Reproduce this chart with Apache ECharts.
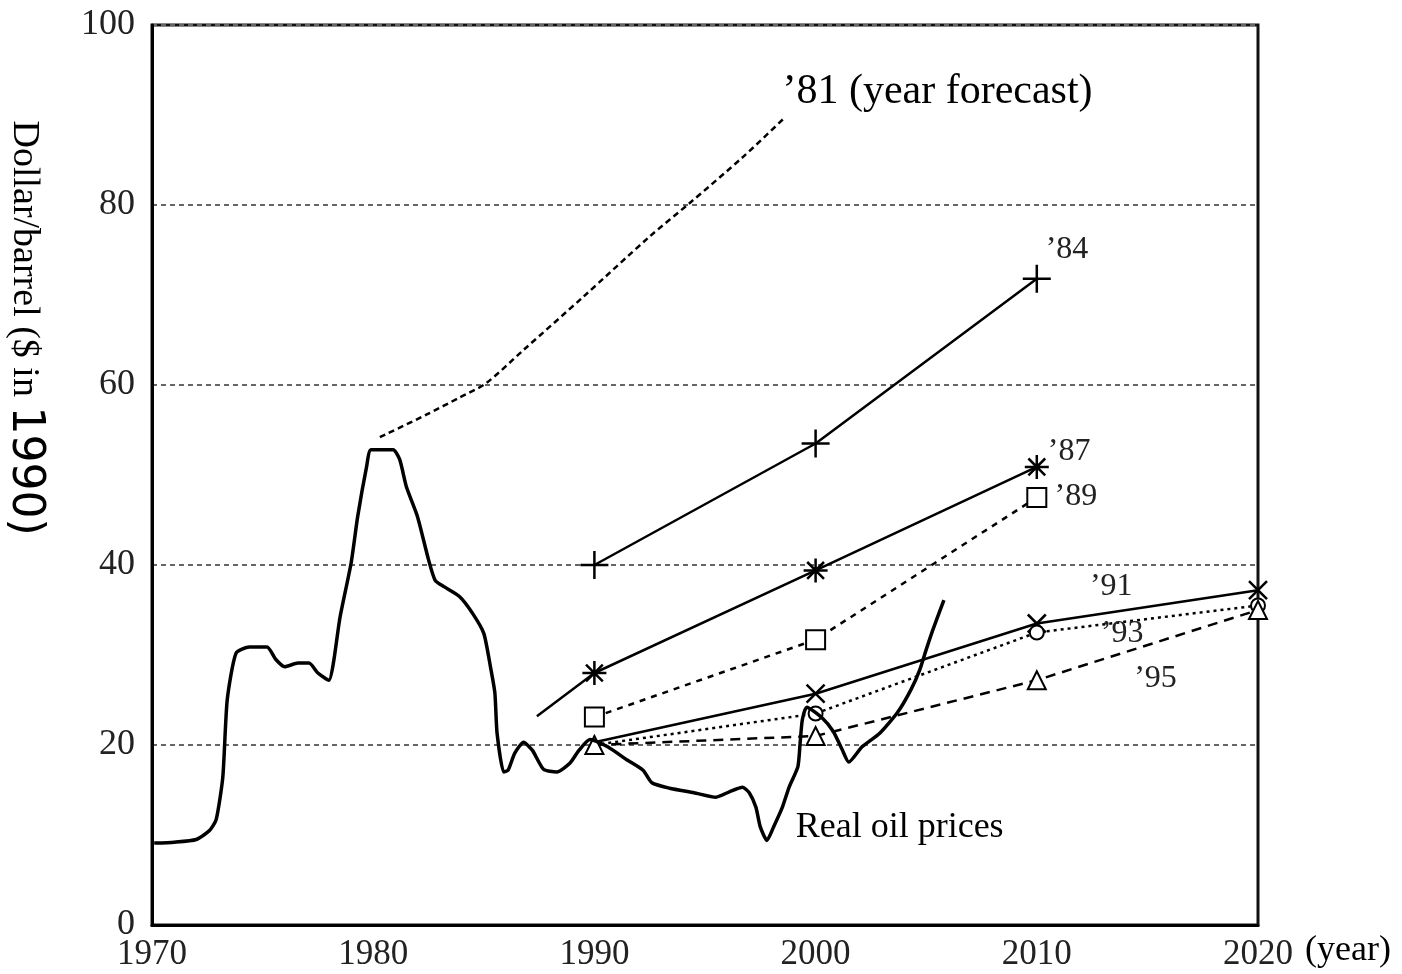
<!DOCTYPE html>
<html>
<head>
<meta charset="utf-8">
<script src="https://cdn.jsdelivr.net/npm/echarts@6/dist/echarts.min.js"></script>
<style>
html,body{margin:0;padding:0;background:#fff;}
#chart{width:1402px;height:974px;}
</style>
</head>
<body>
<div id="chart"></div>
<script>
// ---------- data ----------
const xTicks = [1970, 1980, 1990, 2000, 2010, 2020];
const yTicks = [0, 20, 40, 60, 80, 100];

const realOilPrices = [
  [1970.1, 9.1], [1971.0, 9.2], [1972.0, 9.5], [1972.6, 10.5], [1972.9, 11.7],
  [1973.2, 16.4], [1973.4, 25.0], [1973.8, 30.2], [1974.4, 30.9], [1975.2, 30.9],
  [1975.6, 29.5], [1976.0, 28.7], [1976.6, 29.1], [1977.1, 29.1], [1977.5, 28.0],
  [1978.0, 27.2], [1978.2, 29.1], [1978.5, 34.2], [1979.0, 40.2], [1979.3, 45.4],
  [1979.7, 50.9], [1979.9, 52.8], [1980.9, 52.8], [1981.2, 51.7], [1981.5, 48.7],
  [1982.0, 45.4], [1982.5, 40.6], [1982.8, 38.3], [1983.2, 37.6], [1983.9, 36.5],
  [1984.5, 34.6], [1985.0, 32.4], [1985.3, 28.7], [1985.5, 25.8], [1985.6, 21.3],
  [1985.9, 17.0], [1986.1, 17.2], [1986.4, 19.1], [1986.8, 20.3], [1987.2, 19.4],
  [1987.7, 17.3], [1988.3, 17.0], [1988.9, 18.0], [1989.3, 19.4], [1989.8, 20.6],
  [1990.6, 19.8], [1991.5, 18.3], [1992.2, 17.2], [1992.6, 15.8], [1993.4, 15.2],
  [1994.5, 14.7], [1995.5, 14.2], [1996.1, 14.8], [1996.7, 15.3], [1997.0, 14.7],
  [1997.3, 13.1], [1997.5, 10.9], [1997.8, 9.4], [1998.1, 10.9], [1998.5, 13.1],
  [1998.8, 15.3], [1999.2, 17.6], [1999.3, 20.2], [1999.4, 22.8], [1999.6, 24.2],
  [2000.3, 23.0], [2000.8, 21.5], [2001.2, 19.5], [2001.5, 18.1], [2002.1, 19.8],
  [2002.9, 21.3], [2003.7, 23.6], [2004.3, 26.1], [2004.7, 28.3], [2005.0, 30.6],
  [2005.3, 32.8], [2005.8, 36.1]
];

const forecast81 = [
  [1980.3, 54.2], [1982.4, 56.7], [1983.9, 58.6], [1985.1, 60.2], [1986.8, 63.9],
  [1989.5, 69.8], [1992.5, 76.5], [1994.3, 80.2], [1996.7, 85.3], [1998.6, 89.7]
];
const forecast84 = [[1990, 40.0], [2000, 53.5], [2010, 71.8]];
const forecast87 = [[1987.4, 23.2], [1990, 28.0], [2000, 39.4], [2010, 50.9]];
const forecast89 = [[1990, 23.1], [2000, 31.7], [2010, 47.5]];
const forecast91 = [[1990, 20.3], [2000, 25.7], [2010, 33.5], [2020, 37.2]];
const forecast93 = [[1990, 20.0], [2000, 23.5], [2010, 32.5], [2020, 35.5]];
const forecast95 = [[1990, 20.0], [2000, 21.0], [2010, 27.2], [2020, 35.0]];

const annotationTexts = ["\u201981 (year forecast)", "\u201984", "\u201987", "\u201989", "\u201991", "\u201993", "\u201995", "Real oil prices"];
const annotationAnchors = [[1998.5, 92.6], [2010.4, 75.1], [2010.5, 52.6], [2010.8, 47.6], [2012.4, 37.6], [2012.9, 32.4], [2014.4, 27.4], [1999.1, 10.8]];

const yAxisTitle = "Dollar/barrel ($ in ";
const yAxisTitleYear = "1990)";
const xAxisTitle = "(year)";

// ---------- chart ----------
const chart = echarts.init(document.getElementById('chart'), null, {renderer: 'canvas'});

const SERIF = '"Liberation Serif", "Times New Roman", serif';
const PLUS = 'path://M10,0L10,20M0,10L20,10';
const ASTER = 'path://M10,0L10,20M0,10L20,10M3,3L17,17M3,17L17,3';
const CROSS = 'path://M0,0L20,20M0,20L20,0';

function pts(arr, symbolFirst) {
  return arr.map((p, i) => (i === 0 && symbolFirst === false) ? {value: p, symbol: 'none'} : {value: p});
}

function forecastSeries(name, data, opts) {
  return Object.assign({
    name: name,
    type: 'line',
    data: data,
    color: '#000',
    showSymbol: true,
    symbolKeepAspect: true,
    lineStyle: {color: '#000', width: 2.5, type: 'solid'},
    itemStyle: {color: '#000', borderColor: '#000', borderWidth: 2.5},
    z: 3,
    emphasis: {disabled: true}
  }, opts);
}

const option = {
  animation: false,
  backgroundColor: '#fff',
  grid: {
    left: 152, right: 144, top: 25, bottom: 49,
    show: true, borderColor: '#111', borderWidth: 3, backgroundColor: 'transparent'
  },
  xAxis: {
    type: 'value', min: xTicks[0], max: xTicks[xTicks.length - 1], interval: 10,
    axisLine: {show: true, lineStyle: {color: '#000', width: 3}},
    axisTick: {show: false},
    splitLine: {show: false},
    axisLabel: {
      margin: 12, fontFamily: SERIF, fontSize: 35, color: '#222',
      formatter: v => xTicks.indexOf(v) >= 0 ? String(v) : ''
    }
  },
  yAxis: {
    type: 'value', min: yTicks[0], max: yTicks[yTicks.length - 1], interval: 20,
    axisLine: {show: true, lineStyle: {color: '#000', width: 3}},
    axisTick: {show: false},
    splitLine: {show: true, lineStyle: {color: '#666', width: 2, type: [5, 4]}},
    axisLabel: {
      margin: 17, fontFamily: SERIF, fontSize: 36, color: '#222',
      formatter: v => String(v)
    }
  },
  series: [
    {
      name: 'Real oil prices', type: 'line', data: realOilPrices,
      showSymbol: false, smooth: 0.2, color: '#000',
      lineStyle: {color: '#000', width: 3.5}, z: 4, emphasis: {disabled: true}
    },
    forecastSeries("'81", forecast81, {showSymbol: false, symbol: 'none', smooth: 0.3, lineStyle: {color: '#000', width: 2.5, type: [6, 4]}}),
    forecastSeries("'84", pts(forecast84), {symbol: PLUS, symbolSize: 28}),
    forecastSeries("'87", pts(forecast87, false), {symbol: ASTER, symbolSize: 24}),
    forecastSeries("'89", pts(forecast89), {symbol: 'emptyRect', symbolSize: 19, lineStyle: {color: '#000', width: 2.5, type: [6, 6]}, itemStyle: {color: '#000', borderColor: '#000', borderWidth: 2.5}}),
    forecastSeries("'91", pts(forecast91, false), {symbol: CROSS, symbolSize: 18}),
    forecastSeries("'93", pts(forecast93, false), {symbol: 'emptyCircle', symbolSize: 14, lineStyle: {color: '#000', width: 2.5, type: [3, 4]}}),
    forecastSeries("'95", pts(forecast95), {symbol: 'emptyTriangle', symbolSize: 18, lineStyle: {color: '#000', width: 2.5, type: [10, 7]}}),
    {
      name: 'labels', type: 'scatter', symbolSize: 0, z: 6, silent: true,
      itemStyle: {opacity: 1},
      data: annotationAnchors.map((p, i) => ({
        value: p,
        label: {
          show: true, position: 'right', distance: 0,
          formatter: annotationTexts[i],
          fontFamily: SERIF,
          fontSize: i === 0 ? 42 : (i === 7 ? 36 : 32),
          color: (i === 0 || i === 7) ? '#000' : '#222',
          opacity: 1
        }
      }))
    }
  ],
  graphic: [
    {
      type: 'text', x: 24, y: 328, rotation: -Math.PI / 2,
      style: {
        text: '{a|' + yAxisTitle + '}{b|' + yAxisTitleYear + '}',
        align: 'center', verticalAlign: 'middle',
        rich: {
          a: {fontFamily: SERIF, fontSize: 38, fill: '#000'},
          b: {fontFamily: '"DejaVu Sans", sans-serif', fontSize: 44, fill: '#000'}
        }
      }
    },
    {
      type: 'text', x: 1305, y: 951,
      style: {text: xAxisTitle, fontFamily: SERIF, fontSize: 36, fill: '#000', align: 'left', verticalAlign: 'middle'}
    }
  ]
};

chart.setOption(option);
</script>
</body>
</html>
